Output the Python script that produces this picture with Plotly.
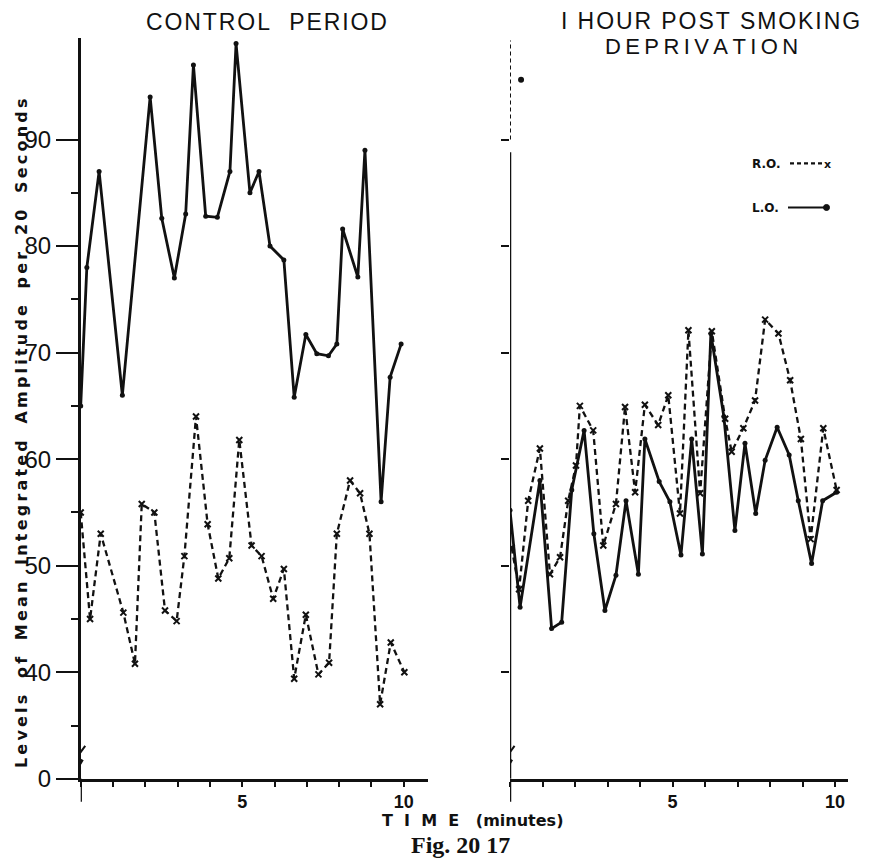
import plotly.graph_objects as go

# ---------------- data (time in minutes, amplitude levels) ----------------
# Control period
ctl_lo_t = [0, 0.19, 0.57, 1.29, 2.15, 2.51, 2.90, 3.25, 3.49, 3.87, 4.23, 4.62, 4.81, 5.24, 5.52,
            5.86, 6.29, 6.61, 6.97, 7.31, 7.67, 7.93, 8.11, 8.58, 8.80, 9.30, 9.58, 9.92]
ctl_lo_v = [65, 78, 87, 66, 94, 82.6, 77, 83, 97, 82.8, 82.7, 87, 99, 85, 87,
            80, 78.7, 65.8, 71.7, 69.9, 69.7, 70.8, 81.6, 77.1, 89, 56, 67.7, 70.8]
ctl_ro_t = [0, 0.29, 0.62, 1.32, 1.68, 1.89, 2.28, 2.61, 2.97, 3.21, 3.57, 3.93, 4.26, 4.60, 4.91,
            5.29, 5.60, 5.96, 6.29, 6.61, 6.97, 7.36, 7.69, 7.93, 8.34, 8.65, 8.94, 9.27, 9.60, 10.02]
ctl_ro_v = [55, 45, 53, 45.6, 40.8, 55.8, 55, 45.8, 44.8, 50.9, 64, 53.9, 48.8, 50.7, 61.8,
            51.9, 50.9, 46.9, 49.7, 39.4, 45.4, 39.8, 40.9, 53, 58, 56.8, 53, 37, 42.8, 40]

# 1 hour post smoking deprivation
dep_lo_t = [0, 0.31, 0.92, 1.28, 1.59, 1.90, 2.28, 2.58, 2.92, 3.26, 3.57, 3.95, 4.15, 4.59, 4.92,
            5.26, 5.59, 5.92, 6.18, 6.58, 6.92, 7.23, 7.56, 7.85, 8.22, 8.59, 8.87, 9.28, 9.62, 10.05]
dep_lo_v = [55.2, 46.1, 58, 44.1, 44.7, 57.1, 62.7, 53, 45.8, 49.1, 56.1, 49.2, 61.9, 57.9, 56,
            51, 61.9, 51.1, 71.8, 64, 53.3, 61.5, 54.9, 59.9, 63, 60.4, 56.1, 50.2, 56.1, 56.9]
dep_ro_t = [0.05, 0.28, 0.56, 0.92, 1.23, 1.54, 1.79, 2.03, 2.15, 2.56, 2.87, 3.26, 3.54, 3.85, 4.15,
            4.56, 4.87, 5.23, 5.49, 5.85, 6.21, 6.62, 6.82, 7.18, 7.54, 7.85, 8.26, 8.62, 8.95, 9.25,
            9.64, 10.05]
dep_ro_v = [51.7, 47.8, 56.1, 61, 49.2, 50.8, 56.1, 59.4, 65, 62.7, 51.9, 55.8, 64.9, 56.9, 65.1,
            63.2, 66, 54.9, 72.1, 56.8, 72, 63.8, 60.7, 62.9, 65.5, 73.1, 71.8, 67.4, 61.9, 52.5,
            62.9, 57.1]
stray_t = [0.34]
stray_v = [95.6]

# broken axis: display value 30 is labelled "0"
y_tickvals = [30, 40, 50, 60, 70, 80, 90]
y_ticktext = ["0", "40", "50", "60", "70", "80", "90"]
x_tickvals = [0, 1, 2, 3, 4, 5, 6, 7, 8, 9, 10]
x_ticktext = ["", "", "", "", "", "5", "", "", "", "", "10"]

W, H = 875, 865
HE = 850.0  # effective rendered height used for paper placement
BLACK = "#111111"
FONT = "Liberation Sans"

def py(y):
    return 1 - y / HE

fig = go.Figure()

solid = dict(color=BLACK, width=2.8)
dashed = dict(color=BLACK, width=2.3, dash="6px,4px")
dot_marker = dict(symbol="circle", size=5, color=BLACK)
x_marker = dict(symbol="x-thin", size=6, color=BLACK, line=dict(color=BLACK, width=2))

fig.add_trace(go.Scatter(x=ctl_lo_t, y=ctl_lo_v, mode="lines+markers", line=solid,
                         marker=dot_marker, xaxis="x", yaxis="y", showlegend=False))
fig.add_trace(go.Scatter(x=ctl_ro_t, y=ctl_ro_v, mode="lines+markers", line=dashed,
                         marker=x_marker, xaxis="x", yaxis="y", showlegend=False))
fig.add_trace(go.Scatter(x=dep_lo_t, y=dep_lo_v, mode="lines+markers", line=solid,
                         marker=dot_marker, xaxis="x2", yaxis="y2", showlegend=False))
fig.add_trace(go.Scatter(x=dep_ro_t, y=dep_ro_v, mode="lines+markers", line=dashed,
                         marker=x_marker, xaxis="x2", yaxis="y2", showlegend=False))
fig.add_trace(go.Scatter(x=stray_t, y=stray_v, mode="markers",
                         marker=dict(symbol="circle", size=6, color=BLACK),
                         xaxis="x2", yaxis="y2", showlegend=False))

ydom = [py(777), py(38.2)]
yrange = [30, 99.5]

xcommon = dict(showgrid=False, zeroline=False, showline=True, linecolor=BLACK, linewidth=2.5,
               ticks="outside", ticklen=5, tickwidth=2, tickcolor=BLACK,
               tickvals=x_tickvals, ticktext=x_ticktext,
               tickfont=dict(family=FONT, size=18, color=BLACK, weight="bold"))

fig.update_layout(
    width=W, height=H,
    margin=dict(l=0, r=0, t=0, b=0),
    paper_bgcolor="white", plot_bgcolor="white",
    xaxis=dict(domain=[80.7 / W, (80.7 + 10.75 * 32.3) / W], range=[0, 10.75],
               anchor="y", **xcommon),
    xaxis2=dict(domain=[510 / W, (510 + 10.4 * 32.5) / W], range=[0, 10.4],
                anchor="y2", **xcommon),
    yaxis=dict(domain=ydom, range=yrange, anchor="x", showgrid=False, zeroline=False,
               showline=True, linecolor=BLACK, linewidth=2.5,
               ticks="outside", ticklen=22, tickwidth=2, tickcolor=BLACK,
               tickvals=y_tickvals, ticktext=y_ticktext,
               tickfont=dict(family=FONT, size=24, color=BLACK),
               minor=dict(tickvals=[35, 45, 55, 65, 75, 85], ticks="outside", ticklen=7,
                          tickwidth=2, tickcolor=BLACK)),
    yaxis2=dict(domain=ydom, range=yrange, anchor="x2", showgrid=False, zeroline=False,
                showline=False, ticks="outside", ticklen=8, tickwidth=2, tickcolor=BLACK,
                tickvals=[40, 50, 60, 70, 80, 90], showticklabels=False),
)

shapes = []
# left y-axis extension below the time axis
shapes.append(dict(type="line", xref="x", yref="y domain", x0=0, x1=0, y0=0, y1=-0.031,
                   line=dict(color=BLACK, width=2.5)))
# right y-axis: dashed top part, gap, solid lower part, extension
shapes.append(dict(type="line", xref="x2", yref="y2", x0=0, x1=0, y0=90, y1=99.3,
                   line=dict(color=BLACK, width=2, dash="4px,3px")))
shapes.append(dict(type="line", xref="x2", yref="y2", x0=0, x1=0, y0=30, y1=88.8,
                   line=dict(color=BLACK, width=2.5)))
shapes.append(dict(type="line", xref="x2", yref="y2 domain", x0=0, x1=0, y0=0, y1=-0.031,
                   line=dict(color=BLACK, width=2.5)))
# axis break marks
for xr, yr in (("x", "y"), ("x2", "y2")):
    shapes.append(dict(type="path", xref=xr, yref=yr,
                       path="M -0.17,30.6 L 0.05,31.7 L -0.12,32.0 L 0.14,33.1",
                       line=dict(color=BLACK, width=2)))
# legend samples
shapes.append(dict(type="line", xref="paper", yref="paper", x0=790 / W, x1=822 / W,
                   y0=py(163), y1=py(163),
                   line=dict(color=BLACK, width=2.2, dash="4px,3px")))
shapes.append(dict(type="line", xref="paper", yref="paper", x0=788 / W, x1=826 / W,
                   y0=py(207), y1=py(207), line=dict(color=BLACK, width=2.2)))
shapes.append(dict(type="circle", xref="paper", yref="paper",
                   x0=823.5 / W, x1=829.5 / W, y0=py(210), y1=py(204),
                   fillcolor=BLACK, line=dict(color=BLACK, width=1)))
fig.update_layout(shapes=shapes)

def ann(text, x, y, size, family=FONT, weight="normal", angle=0, xanchor="center"):
    return dict(text=text, x=x / W, y=py(y), xref="paper", yref="paper",
                showarrow=False, xanchor=xanchor, yanchor="middle", textangle=angle,
                font=dict(family=family, size=size, color=BLACK, weight=weight))

nb = "\u00a0"
hs = "\u200a"
ts = "\u2009"
ywords = ["Levels", "of", "Mean", "Integrated", "Amplitude", "per", "20", "Seconds"]
ytitle = (nb * 3).join(ts.join(w) for w in ywords)
annotations = [
    ann(hs.join("CONTROL") + nb * 3 + hs.join("PERIOD"), 266, 22, 23),
    ann(hs.join("I HOUR POST SMOKING"), 710, 21, 23),
    ann(ts.join("DEPRIVATION"), 701, 46, 22),
    ann(ytitle, 21, 432, 16, family="DejaVu Sans", weight="bold", angle=-90),
    ann("T" + nb * 2 + "I" + nb * 2 + "M" + nb * 2 + "E" + nb * 3 + "(minutes)", 472, 819, 16,
        family="DejaVu Sans", weight="bold"),
    ann("Fig. 20 17", 461, 843, 24, family="Liberation Serif", weight="bold"),
    ann("R.O.", 750, 164, 12, family="DejaVu Sans", weight="bold", xanchor="left"),
    ann("L.O.", 750, 208, 12, family="DejaVu Sans", weight="bold", xanchor="left"),
    ann("x", 827, 164, 11, family="DejaVu Sans", weight="bold"),
]
fig.update_layout(annotations=annotations)

fig.write_html("out.html")
